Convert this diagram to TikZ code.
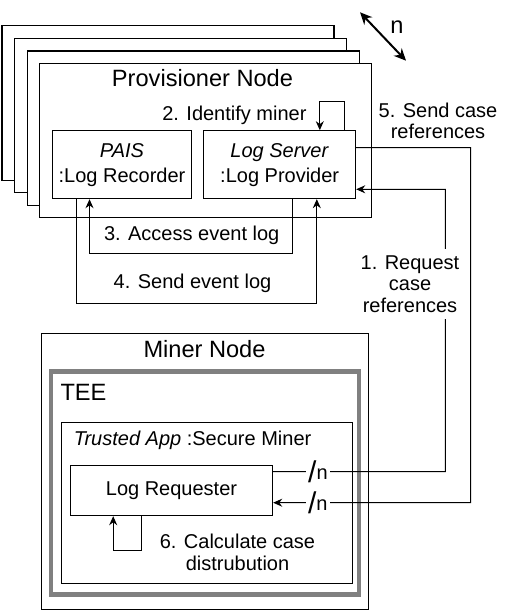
\documentclass[tikz,border=0pt]{standalone}
\usepackage{fontspec}
\setmainfont{Liberation Sans}
\usetikzlibrary{arrows.meta}

\definecolor{teegray}{RGB}{128,128,128}
\newcommand{\bigtxt}{\fontsize{11.8}{14}\selectfont}
\newcommand{\multn}{\raisebox{-1.5pt}{\fontsize{15}{15}\selectfont/}n}

\begin{document}
\begin{tikzpicture}[x=0.5pt,y=-0.5pt,line width=0.5pt,
    font=\fontsize{10}{10.8}\selectfont,
    compbox/.style={draw,line width=0.5pt,align=center,inner sep=0pt,
        font=\fontsize{10}{12.5}\selectfont},
    flow/.style={-{Stealth[length=4.5pt,width=4pt]}},
    cut/.style={fill=white,inner sep=1pt},
    msg/.style={fill=white,inner sep=3pt,align=center}]

\useasboundingbox (0,0) rectangle (515,613);

% stack of provisioner nodes, back to front
\draw[fill=white,line width=0.6pt] (2,25.7) rectangle (334,180.2);
\draw[fill=white,line width=0.6pt] (14.6,38.4) rectangle (346.6,192.9);
\draw[fill=white,line width=0.6pt] (27.2,51.1) rectangle (359.2,205.6);
\draw[fill=white,line width=0.6pt] (39.8,63.8) rectangle (371.8,217.6);
\node[font=\bigtxt] (provtitle) at (202.5,78) {Provisioner Node};

% multiplicity arrow
\coordinate (mult1) at (360,12.3);
\coordinate (mult2) at (406,60.7);
\draw[{Stealth[length=6pt,width=5.5pt]}-{Stealth[length=6pt,width=5.5pt]},line width=1pt] (mult1) -- (mult2);
\node[font=\bigtxt] (multn) at (397,27) {n};

\node[compbox,minimum width=69.7pt,minimum height=34pt] (pais) at (122,164.7) {\textit{PAIS}\\:Log Recorder};
\node[compbox,minimum width=76pt,minimum height=34pt] (ls) at (279.7,164.7) {\textit{Log Server}\\:Log Provider};

% miner side
\draw (41.7,334) rectangle (368.7,609.3);
\node[font=\bigtxt] (minertitle) at (204.5,349) {Miner Node};
\draw[teegray,line width=2.25pt] (51.2,371.5) rectangle (359.2,594.5);
\node[font=\bigtxt,anchor=west,inner sep=0pt] (tee) at (60,392.3) {TEE};
\draw (61.7,422.3) rectangle (352.3,583.3);
\node[anchor=west,inner sep=0pt] (app) at (73.3,440) {\textit{Trusted App} :Secure Miner};
\node[compbox,minimum width=101.2pt,minimum height=25.2pt] (lr) at (171.5,490.5) {Log Requester};

% 1. request case references
\draw[flow] ([yshift=9.4pt]lr.east) -- node[cut,pos=0.26] {\multn} (445.3,471.7) -- (445.3,189.3) -- ([yshift=-12.3pt]ls.east);
\node[msg] (req) at (410,284) {1. Request\\case\\references};

% 2. identify miner
\draw[flow] ([xshift=-5.85pt]ls.north east) -- ++(0,-29) -| ([xshift=-18.2pt]ls.north east);
\node[anchor=east,inner sep=0pt] (ident) at (307,115) {2. Identify miner};

% 3. access event log
\draw[flow] ([xshift=44.5pt]ls.south west) -- ++(0,54) -| ([xshift=18.85pt]pais.south west);
\node (access) at (191.7,235) {3. Access event log};

% 4. send event log
\draw[flow] ([xshift=12.2pt]pais.south west) -- ++(0,104) -| ([xshift=56.8pt]ls.south west);
\node (sendlog) at (192.5,283.3) {4. Send event log};

% 5. send case references
\draw[flow] ([yshift=8.5pt]ls.east) -| (470.7,502.7) -- node[cut,pos=0.774] {\multn} ([yshift=-6.1pt]lr.east);
\node (sendref) at (438,121) [align=center] {5. Send case\\references};

% 6. calculate case distribution
\draw[flow] ([xshift=36pt]lr.south west) -- ++(0,34) -| ([xshift=21.7pt]lr.south west);
\node[align=center] (calc) at (237.5,552.5) {6. Calculate case\\distrubution};

\end{tikzpicture}
\end{document}
